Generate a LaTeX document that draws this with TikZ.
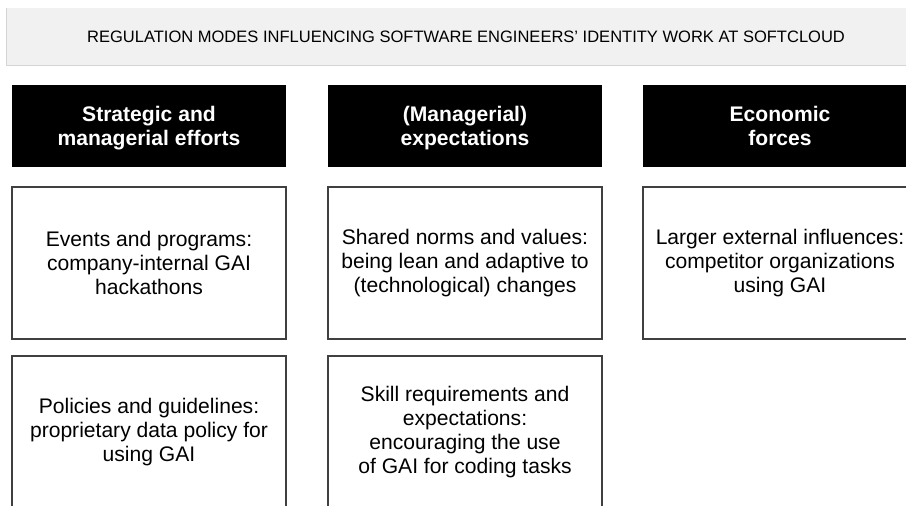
\documentclass[tikz,border=0pt]{standalone}
\usepackage{fontspec}
\setmainfont{Liberation Sans}
\usetikzlibrary{positioning}
\definecolor{bannergray}{HTML}{F1F1F1}
\definecolor{edgegray}{HTML}{D4D4D4}
\begin{document}
\begin{tikzpicture}[x=0.2mm,y=-0.2mm,
  titlebar/.style={fill=bannergray,minimum width=184mm,minimum height=11.4mm,
                   inner sep=0pt,outer sep=0pt,font=\fontsize{9.4}{11}\selectfont},
  headbox/.style={fill=black,text=white,minimum width=54.8mm,minimum height=16.4mm,
                  align=center,inner sep=0pt,outer sep=0pt,text depth=0pt,
                  font=\bfseries\fontsize{12}{13.7}\selectfont},
  itembox/.style={draw=black!75,line width=0.6pt,fill=white,minimum width=54.8mm,
                  minimum height=30.4mm,align=center,inner sep=0pt,outer sep=0pt,
                  font=\fontsize{12}{13.7}\selectfont}
]
  \useasboundingbox (0,0) rectangle (906,506);
  \clip (0,0) rectangle (906,506);

  % title banner
  \node[titlebar,anchor=north west] (banner) at (6,8)
    {REGULATION MODES INFLUENCING SOFTWARE ENGINEERS' IDENTITY WORK AT SOFTCLOUD};
  \draw[edgegray,line width=0.5pt] (banner.north west) -- (banner.south west)
    -- (banner.south east);

  % column headers
  \node[headbox,anchor=north west] (strat) at (12,85)
    {Strategic and\\managerial efforts};
  \node[headbox,right=8.4mm of strat] (expect)
    {(Managerial)\\expectations};
  \node[headbox,right=8.2mm of expect] (econ)
    {Economic\\forces};

  % first row
  \node[itembox,below=4mm of strat] (events)
    {Events and programs:\\company-internal GAI\\hackathons};
  \node[itembox,below=4mm of expect] (norms)
    {Shared norms and values:\\being lean and adaptive to\\(technological) changes};
  \node[itembox,below=4mm of econ] (influence)
    {Larger external influences:\\competitor organizations\\using GAI};

  % second row
  \node[itembox,below=3.4mm of events] (policies)
    {Policies and guidelines:\\proprietary data policy for\\using GAI};
  \node[itembox,below=3.4mm of norms] (skills)
    {Skill requirements and\\expectations:\\encouraging the use\\of GAI for coding tasks};
\end{tikzpicture}
\end{document}
